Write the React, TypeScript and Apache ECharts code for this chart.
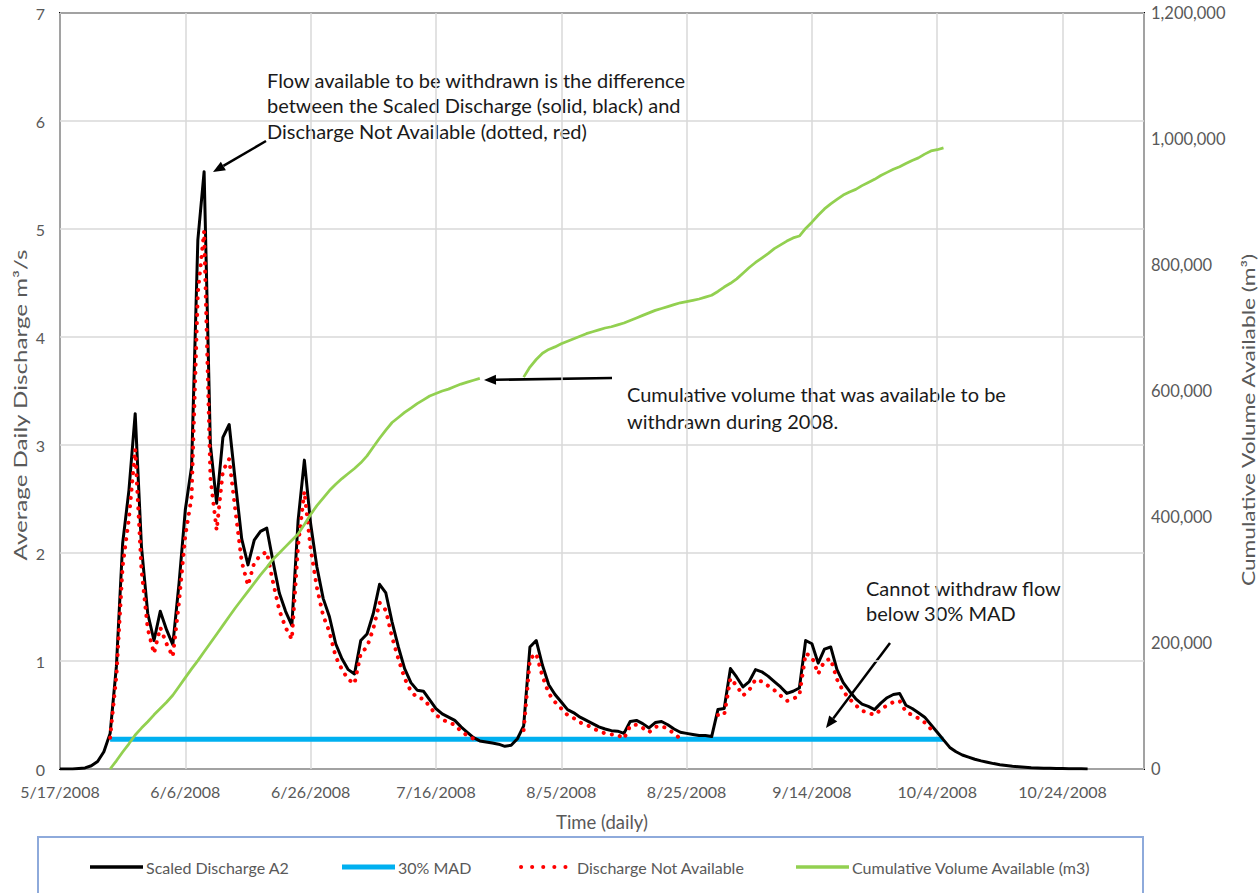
import React, { useEffect, useRef } from "react";
import * as echarts from "echarts";

// ---- Data (day index 0 = 5/17/2008) ----
const START_DATE = Date.UTC(2008, 4, 17);
const X_MIN_DAY = 0;
const X_MAX_DAY = 173;
const X_TICK_DAYS = 20;

// Scaled Discharge A2 (m3/s), daily from day 0
const discharge = [
  0, 0, 0, 0.005, 0.01, 0.03, 0.07, 0.16, 0.33, 0.95,
  2.09, 2.58, 3.29, 2.06, 1.44, 1.19, 1.46, 1.29, 1.15, 1.72,
  2.40, 2.80, 4.90, 5.53, 3.00, 2.46, 3.07, 3.19, 2.65, 2.13,
  1.89, 2.12, 2.20, 2.23, 1.92, 1.63, 1.46, 1.33, 2.30, 2.86,
  2.27, 1.87, 1.58, 1.41, 1.16, 1.02, 0.92, 0.88, 1.19, 1.25,
  1.44, 1.71, 1.63, 1.36, 1.13, 0.93, 0.80, 0.73, 0.72, 0.64,
  0.56, 0.51, 0.48, 0.45, 0.39, 0.34, 0.29, 0.26, 0.25, 0.24,
  0.23, 0.21, 0.22, 0.28, 0.40, 1.13, 1.19, 0.96, 0.78, 0.69,
  0.62, 0.55, 0.52, 0.48, 0.45, 0.42, 0.39, 0.37, 0.355, 0.35,
  0.33, 0.44, 0.45, 0.42, 0.38, 0.43, 0.44, 0.41, 0.37, 0.34,
  0.33, 0.32, 0.31, 0.31, 0.30, 0.55, 0.56, 0.93, 0.85, 0.76,
  0.81, 0.92, 0.90, 0.86, 0.81, 0.76, 0.70, 0.72, 0.75, 1.19,
  1.16, 0.98, 1.11, 1.13, 0.92, 0.80, 0.72, 0.65, 0.60, 0.58,
  0.55, 0.61, 0.66, 0.69, 0.70, 0.59, 0.56, 0.52, 0.48, 0.41,
  0.34, 0.27, 0.20, 0.16, 0.13, 0.11, 0.09, 0.075, 0.062, 0.05,
  0.04, 0.032, 0.025, 0.02, 0.016, 0.012, 0.01, 0.008, 0.006, 0.005,
  0.004, 0.003, 0.002, 0.002, 0.001,
];

// Discharge Not Available (m3/s), daily from day 8
const NOT_AVAILABLE_START = 8;
const notAvailable: (number | null)[] = [
  0.29, 0.86,
  1.88, 2.32, 2.96, 1.85, 1.30, 1.07, 1.31, 1.16, 1.04, 1.55,
  2.16, 2.52, 4.41, 4.98, 2.70, 2.21, 2.76, 2.87, 2.39, 1.92,
  1.70, 1.91, 1.98, 2.01, 1.73, 1.47, 1.31, 1.20, 2.07, 2.57,
  2.04, 1.68, 1.42, 1.27, 1.04, 0.92, 0.83, 0.79, 1.07, 1.13,
  1.30, 1.54, 1.47, 1.22, 1.02, 0.84, 0.72, 0.66, 0.65, 0.58,
  0.50, 0.46, 0.43, 0.41, 0.35, 0.31, 0.28, null, null, null,
  null, null, null, null, 0.36, 1.02, 1.07, 0.86, 0.70, 0.62,
  0.56, 0.50, 0.47, 0.43, 0.41, 0.38, 0.35, 0.33, 0.32, 0.315,
  0.28, 0.40, 0.41, 0.38, 0.34, 0.39, 0.40, 0.37, 0.33, 0.28,
  null, null, null, null, null, 0.50, 0.50, 0.84, 0.77, 0.68,
  0.73, 0.83, 0.81, 0.77, 0.73, 0.68, 0.63, 0.65, 0.68, 1.07,
  1.04, 0.88, 1.00, 1.02, 0.83, 0.72, 0.65, 0.59, 0.54, 0.52,
  0.50, 0.55, 0.59, 0.62, 0.63, 0.53, 0.50, 0.47, 0.43, 0.37,
];

// Cumulative Volume Available (m3), daily from day 8
const CUMULATIVE_START = 8;
const cumulative: (number | null)[] = [
  0, 13000,
  27000, 40000, 54000, 65000, 75000, 86000, 96000, 106000, 117000, 131000,
  145000, 159000, 172000, 186000, 200000, 214000, 228000, 242000, 256000, 269000,
  282000, 295000, 308000, 320000, 333000, 343000, 353000, 363000, 373000, 388000,
  404000, 418000, 430000, 442000, 452000, 461000, 469000, 477000, 486000, 497000,
  511000, 525000, 538000, 550000, 558000, 566000, 573000, 580000, 586000, 592000,
  596000, 600000, 603000, 607000, 611000, 614000, 617000, 620000, null, null,
  null, null, null, null, 622000, 638000, 650000, 660000, 666000, 670000,
  675000, 679000, 683000, 687000, 691000, 694000, 697000, 700000, 702000, 705000,
  708000, 712000, 716000, 720000, 724000, 728000, 731000, 734000, 737000, 740000,
  742000, 744000, 746000, 749000, 752000, 758000, 765000, 771000, 778000, 787000,
  796000, 804000, 811000, 818000, 826000, 832000, 838000, 843000, 846000, 858000,
  868000, 879000, 889000, 897000, 904000, 911000, 916000, 920000, 926000, 931000,
  936000, 942000, 947000, 952000, 956000, 961000, 966000, 970000, 976000, 981000,
  983000, 986000,
];

// 30% MAD (m3/s), constant over the withdrawal season
const MAD_VALUE = 0.275;
const MAD_START_DAY = 8;
const MAD_END_DAY = 141;

const LEFT_AXIS = { min: 0, max: 7, interval: 1 };
const RIGHT_AXIS = { min: 0, max: 1200000, interval: 200000 };

const seriesNames = [
  "Scaled Discharge A2",
  "30% MAD",
  "Discharge Not Available",
  "Cumulative Volume Available (m3)",
];

const COLORS = {
  discharge: "#000000",
  mad: "#00b0f0",
  notAvailable: "#ff0000",
  cumulative: "#92d050",
};

function dayLabel(d: number): string {
  const dt = new Date(START_DATE + d * 86400000);
  return `${dt.getUTCMonth() + 1}/${dt.getUTCDate()}/${dt.getUTCFullYear()}`;
}

function arrow(x1: number, y1: number, x2: number, y2: number) {
  const dx = x2 - x1;
  const dy = y2 - y1;
  const len = Math.sqrt(dx * dx + dy * dy);
  const ux = dx / len;
  const uy = dy / len;
  const headLen = 12;
  const headW = 5;
  const bx = x2 - ux * headLen;
  const by = y2 - uy * headLen;
  const nx = -uy;
  const ny = ux;
  return [
    {
      type: "line",
      shape: { x1, y1, x2: bx, y2: by },
      style: { stroke: "#000", lineWidth: 2.5 },
    },
    {
      type: "polygon",
      shape: {
        points: [
          [x2, y2],
          [bx + nx * headW, by + ny * headW],
          [bx - nx * headW, by - ny * headW],
        ],
      },
      style: { fill: "#000" },
    },
  ];
}

const FONT = "Lato, 'Open Sans', sans-serif";
const LABEL_COLOR = "#595959";
const NOTE_COLOR = "#1a1a1a";

export default function App() {
  const ref = useRef<HTMLDivElement>(null);

  useEffect(() => {
    if (!ref.current) return;
    const chart = echarts.init(ref.current, null, { renderer: "svg" });

    const dischargeData = discharge.map((v, i) => [i, v]);
    const notAvailData = notAvailable.map((v, i) => [i + NOT_AVAILABLE_START, v]);
    const cumulativeData = cumulative.map((v, i) => [i + CUMULATIVE_START, v]);
    const madData = [
      [MAD_START_DAY, MAD_VALUE],
      [MAD_END_DAY, MAD_VALUE],
    ];

    const legendY = 867;
    const legendItems = [
      { name: seriesNames[0], x: 90, color: COLORS.discharge, width: 3.5, dash: null as any },
      { name: seriesNames[1], x: 342, color: COLORS.mad, width: 5, dash: null as any },
      { name: seriesNames[2], x: 521, color: COLORS.notAvailable, width: 4, dash: [0.1, 11] },
      { name: seriesNames[3], x: 796, color: COLORS.cumulative, width: 3.5, dash: null as any },
    ];
    const legendGraphics: any[] = [
      {
        type: "rect",
        shape: { x: 38, y: 837, width: 1105, height: 80 },
        style: { fill: "none", stroke: "#8eaadb", lineWidth: 2 },
      },
    ];
    legendItems.forEach((it) => {
      legendGraphics.push({
        type: "line",
        shape: { x1: it.x, y1: legendY, x2: it.x + (it.dash ? 50 : 53), y2: legendY },
        style: {
          stroke: it.color,
          lineWidth: it.width,
          lineDash: it.dash || undefined,
          lineCap: it.dash ? "round" : "butt",
        },
      });
      legendGraphics.push({
        type: "text",
        style: {
          text: it.name,
          x: it.x + 56,
          y: legendY,
          verticalAlign: "middle",
          fontSize: 16,
          fontFamily: FONT,
          fill: LABEL_COLOR,
        },
      });
    });

    const axisNameGraphics: any[] = [
      {
        type: "text",
        x: 20,
        y: 405,
        rotation: Math.PI / 2,
        scaleX: 1.42,
        style: {
          text: "Average Daily Discharge m³/s",
          fontSize: 17,
          fontFamily: FONT,
          fill: LABEL_COLOR,
          align: "center",
          verticalAlign: "middle",
        },
      },
      {
        type: "text",
        x: 1248,
        y: 420,
        rotation: Math.PI / 2,
        scaleX: 1.34,
        style: {
          text: "Cumulative Volume Available (m³)",
          fontSize: 17,
          fontFamily: FONT,
          fill: LABEL_COLOR,
          align: "center",
          verticalAlign: "middle",
        },
      },
    ];

    const annotationGraphics: any[] = [
      {
        type: "text",
        style: {
          text:
            "Flow available to be withdrawn is the difference\nbetween the Scaled Discharge (solid, black) and\nDischarge Not Available (dotted, red)",
          x: 267,
          y: 67,
          fontSize: 20,
          lineHeight: 25.5,
          fontFamily: FONT,
          fill: NOTE_COLOR,
        },
      },
      ...arrow(266, 141, 213, 172),
      {
        type: "text",
        style: {
          text: "Cumulative volume that was available to be\nwithdrawn during 2008.",
          x: 627,
          y: 380,
          fontSize: 20,
          lineHeight: 27,
          fontFamily: FONT,
          fill: NOTE_COLOR,
        },
      },
      ...arrow(612, 378, 484, 380),
      {
        type: "text",
        style: {
          text: "Cannot withdraw flow\nbelow 30% MAD",
          x: 866,
          y: 575.5,
          fontSize: 20,
          lineHeight: 25,
          fontFamily: FONT,
          fill: NOTE_COLOR,
        },
      },
      ...arrow(890, 643, 826, 728),
    ];

    const option: any = {
      animation: false,
      backgroundColor: "#ffffff",
      textStyle: { fontFamily: FONT },
      grid: {
        left: 60,
        right: 116,
        top: 13,
        bottom: 124,
        show: true,
        borderColor: "#000",
        borderWidth: 2,
        backgroundColor: "transparent",
        outerBoundsMode: "none",
        containLabel: false,
      },
      xAxis: {
        type: "value",
        min: X_MIN_DAY,
        max: X_MAX_DAY,
        interval: X_TICK_DAYS,
        axisLine: { show: false },
        axisTick: { show: false },
        splitLine: { show: true, lineStyle: { color: "#d9d9d9", width: 1.5 } },
        axisLabel: {
          formatter: (v: number) => dayLabel(v),
          showMaxLabel: false,
          color: LABEL_COLOR,
          fontSize: 16,
          fontFamily: FONT,
          margin: 14,
        },
        name: "Time (daily)",
        nameLocation: "middle",
        nameGap: 43,
        nameTextStyle: { color: LABEL_COLOR, fontSize: 18.5, fontFamily: FONT },
      },
      yAxis: [
        {
          type: "value",
          min: LEFT_AXIS.min,
          max: LEFT_AXIS.max,
          interval: LEFT_AXIS.interval,
          axisLine: { show: false },
          axisTick: { show: false },
          splitLine: { show: true, lineStyle: { color: "#d9d9d9", width: 1.5 } },
          axisLabel: { color: LABEL_COLOR, fontSize: 16, fontFamily: FONT, margin: 15 },
        },
        {
          type: "value",
          min: RIGHT_AXIS.min,
          max: RIGHT_AXIS.max,
          interval: RIGHT_AXIS.interval,
          position: "right",
          axisLine: { show: false },
          axisTick: { show: false },
          splitLine: { show: false },
          axisLabel: {
            color: LABEL_COLOR,
            fontSize: 16.5,
            fontFamily: FONT,
            margin: 7,
            formatter: (v: number) => v.toLocaleString("en-US"),
          },
        },
      ],
      series: [
        {
          name: seriesNames[1],
          type: "line",
          data: madData,
          showSymbol: false,
          lineStyle: { color: COLORS.mad, width: 5 },
          z: 1,
        },
        {
          name: seriesNames[0],
          type: "line",
          data: dischargeData,
          showSymbol: false,
          lineStyle: { color: COLORS.discharge, width: 3, join: "round" },
          z: 2,
        },
        {
          name: seriesNames[2],
          type: "line",
          data: notAvailData,
          showSymbol: false,
          connectNulls: false,
          lineStyle: {
            color: COLORS.notAvailable,
            width: 4,
            type: [0.1, 8.2],
            cap: "round",
          },
          z: 3,
        },
        {
          name: seriesNames[3],
          type: "line",
          yAxisIndex: 1,
          data: cumulativeData,
          showSymbol: false,
          connectNulls: false,
          lineStyle: { color: COLORS.cumulative, width: 2.75 },
          z: 4,
        },
      ],
      graphic: [...axisNameGraphics, ...annotationGraphics, ...legendGraphics],
    };

    chart.setOption(option);
    return () => chart.dispose();
  }, []);

  return (
    <div
      ref={ref}
      style={{ position: "absolute", left: 0, top: 0, width: 1260, height: 893, background: "#fff" }}
    />
  );
}
